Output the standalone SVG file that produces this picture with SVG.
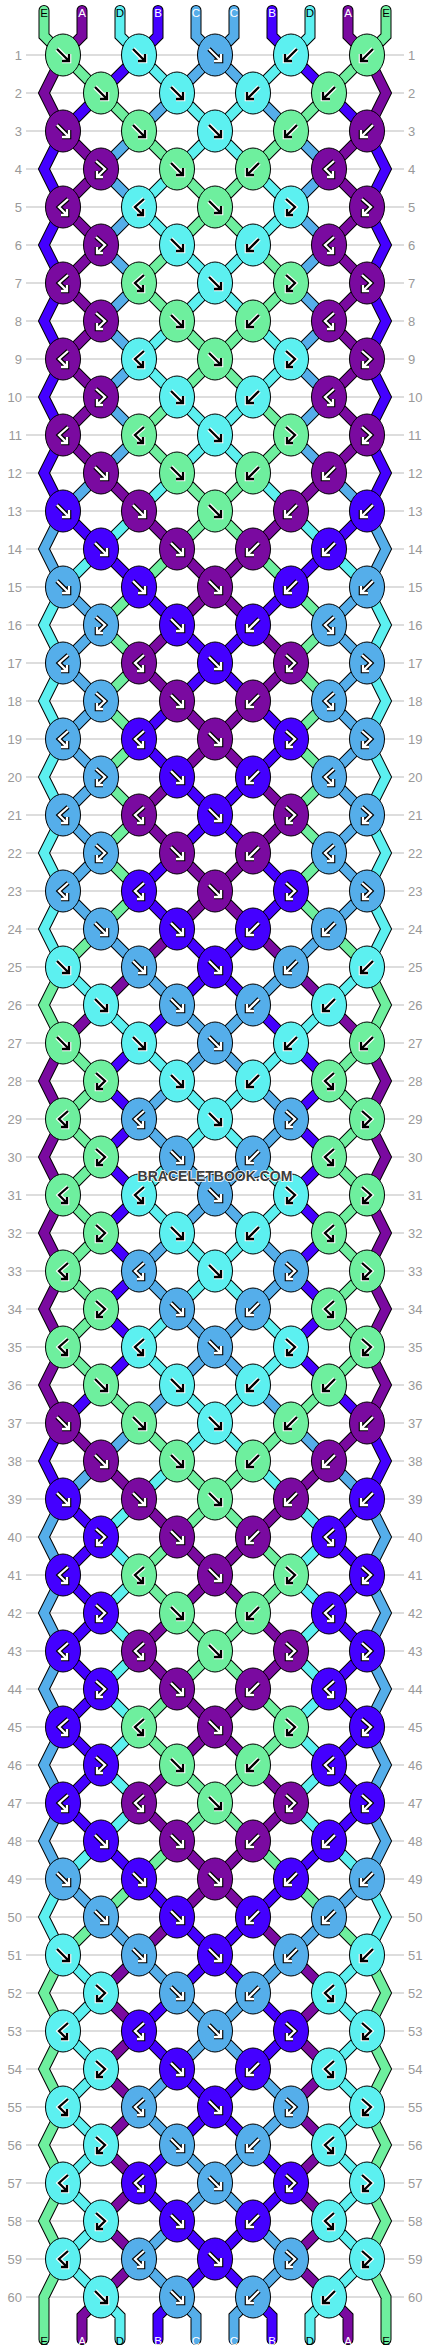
<svg xmlns="http://www.w3.org/2000/svg" xmlns:xlink="http://www.w3.org/1999/xlink" width="430" height="2352" viewBox="0 0 430 2352">
<style>
.grid{fill:none;stroke:#bbb;stroke-width:1}
.num{font-family:"Liberation Sans",Arial,sans-serif;font-size:13px;fill:#999}
.nl{text-anchor:end}
.so{fill:none;stroke:#000;stroke-width:11;stroke-linecap:round;stroke-linejoin:miter}
.cs{fill:none;stroke-width:9;stroke-linecap:round;stroke-linejoin:miter}
.sg{stroke:#6eef9e}.sp{stroke:#7a0aa0}.sc{stroke:#5cf0f0}.sb{stroke:#4400ff}.sl{stroke:#55aeea}
ellipse{stroke:#000;stroke-width:1}
.kg{fill:#6eef9e}.kp{fill:#7a0aa0}.kc{fill:#5cf0f0}.kb{fill:#4400ff}.kl{fill:#55aeea}
.lo{fill:none;stroke:#fff;stroke-width:4.6}
.li{fill:none;stroke:#000;stroke-width:2.3}
.do{fill:none;stroke:#000;stroke-width:4.6}
.di{fill:none;stroke:#fff;stroke-width:2.3}
.lab{font-family:"Liberation Sans",Arial,sans-serif;font-size:11.5px;text-anchor:middle}
.lw{fill:#fff}.lk{fill:#000}
.wm{font-family:"Liberation Sans",Arial,sans-serif;font-size:14px;font-weight:bold;text-anchor:middle;fill:#3c3c3c;stroke:#fff;stroke-width:1.6;paint-order:stroke}
</style>
<defs>
<path id="aF" d="M-6,-6L5,5M-1,6H6V-1"/>
<path id="aB" d="M6,-6L-5,5M1,6H-6V-1"/>
<path id="aFB" d="M-5,-8L4,0L-4,8M-4,2V8H2"/>
<path id="aBF" d="M5,-8L-4,0L4,8M4,2V8H-2"/>
<g id="gF"><ellipse class="kg" rx="17.5" ry="21"/><use href="#aF" class="lo"/><use href="#aF" class="li"/></g>
<g id="gB"><ellipse class="kg" rx="17.5" ry="21"/><use href="#aB" class="lo"/><use href="#aB" class="li"/></g>
<g id="gFB"><ellipse class="kg" rx="17.5" ry="21"/><use href="#aFB" class="lo"/><use href="#aFB" class="li"/></g>
<g id="gBF"><ellipse class="kg" rx="17.5" ry="21"/><use href="#aBF" class="lo"/><use href="#aBF" class="li"/></g>
<g id="cF"><ellipse class="kc" rx="17.5" ry="21"/><use href="#aF" class="lo"/><use href="#aF" class="li"/></g>
<g id="cB"><ellipse class="kc" rx="17.5" ry="21"/><use href="#aB" class="lo"/><use href="#aB" class="li"/></g>
<g id="cFB"><ellipse class="kc" rx="17.5" ry="21"/><use href="#aFB" class="lo"/><use href="#aFB" class="li"/></g>
<g id="cBF"><ellipse class="kc" rx="17.5" ry="21"/><use href="#aBF" class="lo"/><use href="#aBF" class="li"/></g>
<g id="pF"><ellipse class="kp" rx="17.5" ry="21"/><use href="#aF" class="do"/><use href="#aF" class="di"/></g>
<g id="pB"><ellipse class="kp" rx="17.5" ry="21"/><use href="#aB" class="do"/><use href="#aB" class="di"/></g>
<g id="pFB"><ellipse class="kp" rx="17.5" ry="21"/><use href="#aFB" class="do"/><use href="#aFB" class="di"/></g>
<g id="pBF"><ellipse class="kp" rx="17.5" ry="21"/><use href="#aBF" class="do"/><use href="#aBF" class="di"/></g>
<g id="bF"><ellipse class="kb" rx="17.5" ry="21"/><use href="#aF" class="do"/><use href="#aF" class="di"/></g>
<g id="bB"><ellipse class="kb" rx="17.5" ry="21"/><use href="#aB" class="do"/><use href="#aB" class="di"/></g>
<g id="bFB"><ellipse class="kb" rx="17.5" ry="21"/><use href="#aFB" class="do"/><use href="#aFB" class="di"/></g>
<g id="bBF"><ellipse class="kb" rx="17.5" ry="21"/><use href="#aBF" class="do"/><use href="#aBF" class="di"/></g>
<g id="lF"><ellipse class="kl" rx="17.5" ry="21"/><use href="#aF" class="do"/><use href="#aF" class="di"/></g>
<g id="lB"><ellipse class="kl" rx="17.5" ry="21"/><use href="#aB" class="do"/><use href="#aB" class="di"/></g>
<g id="lFB"><ellipse class="kl" rx="17.5" ry="21"/><use href="#aFB" class="do"/><use href="#aFB" class="di"/></g>
<g id="lBF"><ellipse class="kl" rx="17.5" ry="21"/><use href="#aBF" class="do"/><use href="#aBF" class="di"/></g>
<polyline id="sE" points="44,10.5 44,36 63,55 101,93 139,131 177,169 215,207 177,245 139,283 177,321 215,359 177,397 139,435 177,473 215,511 177,549 139,587 101,625 139,663 101,701 139,739 101,777 139,815 101,853 139,891 101,929 63,967 44,1005 63,1043 101,1081 63,1119 101,1157 63,1195 101,1233 63,1271 101,1309 63,1347 101,1385 139,1423 177,1461 215,1499 177,1537 139,1575 177,1613 215,1651 177,1689 139,1727 177,1765 215,1803 177,1841 139,1879 101,1917 63,1955 44,1993 63,2031 44,2069 63,2107 44,2145 63,2183 44,2221 63,2259 44,2297 44,2339.5"/>
<polyline id="sA" points="82,10.5 82,36 63,55 44,93 63,131 101,169 63,207 101,245 63,283 101,321 63,359 101,397 63,435 101,473 139,511 177,549 215,587 177,625 139,663 177,701 215,739 177,777 139,815 177,853 215,891 177,929 139,967 101,1005 63,1043 44,1081 63,1119 44,1157 63,1195 44,1233 63,1271 44,1309 63,1347 44,1385 63,1423 101,1461 139,1499 177,1537 215,1575 177,1613 139,1651 177,1689 215,1727 177,1765 139,1803 177,1841 215,1879 177,1917 139,1955 101,1993 139,2031 101,2069 139,2107 101,2145 139,2183 101,2221 139,2259 101,2297 82,2316 82,2339.5"/>
<polyline id="sD" points="120,10.5 120,36 139,55 177,93 215,131 177,169 139,207 177,245 215,283 177,321 139,359 177,397 215,435 177,473 139,511 101,549 63,587 44,625 63,663 44,701 63,739 44,777 63,815 44,853 63,891 44,929 63,967 101,1005 139,1043 177,1081 215,1119 177,1157 139,1195 177,1233 215,1271 177,1309 139,1347 177,1385 215,1423 177,1461 139,1499 101,1537 139,1575 101,1613 139,1651 101,1689 139,1727 101,1765 139,1803 101,1841 63,1879 44,1917 63,1955 101,1993 63,2031 101,2069 63,2107 101,2145 63,2183 101,2221 63,2259 101,2297 120,2316 120,2339.5"/>
<polyline id="sB" points="158,10.5 158,36 139,55 101,93 63,131 44,169 63,207 44,245 63,283 44,321 63,359 44,397 63,435 44,473 63,511 101,549 139,587 177,625 215,663 177,701 139,739 177,777 215,815 177,853 139,891 177,929 215,967 177,1005 139,1043 101,1081 139,1119 101,1157 139,1195 101,1233 139,1271 101,1309 139,1347 101,1385 63,1423 44,1461 63,1499 101,1537 63,1575 101,1613 63,1651 101,1689 63,1727 101,1765 63,1803 101,1841 139,1879 177,1917 215,1955 177,1993 139,2031 177,2069 215,2107 177,2145 139,2183 177,2221 215,2259 177,2297 158,2316 158,2339.5"/>
<polyline id="sC" points="196,10.5 196,36 215,55 177,93 139,131 101,169 139,207 101,245 139,283 101,321 139,359 101,397 139,435 101,473 63,511 44,549 63,587 101,625 63,663 101,701 63,739 101,777 63,815 101,853 63,891 101,929 139,967 177,1005 215,1043 177,1081 139,1119 177,1157 215,1195 177,1233 139,1271 177,1309 215,1347 177,1385 139,1423 101,1461 63,1499 44,1537 63,1575 44,1613 63,1651 44,1689 63,1727 44,1765 63,1803 44,1841 63,1879 101,1917 139,1955 177,1993 215,2031 177,2069 139,2107 177,2145 215,2183 177,2221 139,2259 177,2297 196,2316 196,2339.5"/>
</defs>
<rect width="430" height="2352" fill="#fff"/>
<g id="rows">
<path class="grid" d="M26,55H404M26,93H404M26,131H404M26,169H404M26,207H404M26,245H404M26,283H404M26,321H404M26,359H404M26,397H404M26,435H404M26,473H404M26,511H404M26,549H404M26,587H404M26,625H404M26,663H404M26,701H404M26,739H404M26,777H404M26,815H404M26,853H404M26,891H404M26,929H404M26,967H404M26,1005H404M26,1043H404M26,1081H404M26,1119H404M26,1157H404M26,1195H404M26,1233H404M26,1271H404M26,1309H404M26,1347H404M26,1385H404M26,1423H404M26,1461H404M26,1499H404M26,1537H404M26,1575H404M26,1613H404M26,1651H404M26,1689H404M26,1727H404M26,1765H404M26,1803H404M26,1841H404M26,1879H404M26,1917H404M26,1955H404M26,1993H404M26,2031H404M26,2069H404M26,2107H404M26,2145H404M26,2183H404M26,2221H404M26,2259H404M26,2297H404"/>
<g class="num nl">
<text x="22" y="59.5">1</text><text x="22" y="97.5">2</text><text x="22" y="135.5">3</text><text x="22" y="173.5">4</text><text x="22" y="211.5">5</text><text x="22" y="249.5">6</text><text x="22" y="287.5">7</text><text x="22" y="325.5">8</text><text x="22" y="363.5">9</text><text x="22" y="401.5">10</text>
<text x="22" y="439.5">11</text><text x="22" y="477.5">12</text><text x="22" y="515.5">13</text><text x="22" y="553.5">14</text><text x="22" y="591.5">15</text><text x="22" y="629.5">16</text><text x="22" y="667.5">17</text><text x="22" y="705.5">18</text><text x="22" y="743.5">19</text><text x="22" y="781.5">20</text>
<text x="22" y="819.5">21</text><text x="22" y="857.5">22</text><text x="22" y="895.5">23</text><text x="22" y="933.5">24</text><text x="22" y="971.5">25</text><text x="22" y="1009.5">26</text><text x="22" y="1047.5">27</text><text x="22" y="1085.5">28</text><text x="22" y="1123.5">29</text><text x="22" y="1161.5">30</text>
<text x="22" y="1199.5">31</text><text x="22" y="1237.5">32</text><text x="22" y="1275.5">33</text><text x="22" y="1313.5">34</text><text x="22" y="1351.5">35</text><text x="22" y="1389.5">36</text><text x="22" y="1427.5">37</text><text x="22" y="1465.5">38</text><text x="22" y="1503.5">39</text><text x="22" y="1541.5">40</text>
<text x="22" y="1579.5">41</text><text x="22" y="1617.5">42</text><text x="22" y="1655.5">43</text><text x="22" y="1693.5">44</text><text x="22" y="1731.5">45</text><text x="22" y="1769.5">46</text><text x="22" y="1807.5">47</text><text x="22" y="1845.5">48</text><text x="22" y="1883.5">49</text><text x="22" y="1921.5">50</text>
<text x="22" y="1959.5">51</text><text x="22" y="1997.5">52</text><text x="22" y="2035.5">53</text><text x="22" y="2073.5">54</text><text x="22" y="2111.5">55</text><text x="22" y="2149.5">56</text><text x="22" y="2187.5">57</text><text x="22" y="2225.5">58</text><text x="22" y="2263.5">59</text><text x="22" y="2301.5">60</text>
</g>
<g class="num">
<text x="408" y="59.5">1</text><text x="408" y="97.5">2</text><text x="408" y="135.5">3</text><text x="408" y="173.5">4</text><text x="408" y="211.5">5</text><text x="408" y="249.5">6</text><text x="408" y="287.5">7</text><text x="408" y="325.5">8</text><text x="408" y="363.5">9</text><text x="408" y="401.5">10</text>
<text x="408" y="439.5">11</text><text x="408" y="477.5">12</text><text x="408" y="515.5">13</text><text x="408" y="553.5">14</text><text x="408" y="591.5">15</text><text x="408" y="629.5">16</text><text x="408" y="667.5">17</text><text x="408" y="705.5">18</text><text x="408" y="743.5">19</text><text x="408" y="781.5">20</text>
<text x="408" y="819.5">21</text><text x="408" y="857.5">22</text><text x="408" y="895.5">23</text><text x="408" y="933.5">24</text><text x="408" y="971.5">25</text><text x="408" y="1009.5">26</text><text x="408" y="1047.5">27</text><text x="408" y="1085.5">28</text><text x="408" y="1123.5">29</text><text x="408" y="1161.5">30</text>
<text x="408" y="1199.5">31</text><text x="408" y="1237.5">32</text><text x="408" y="1275.5">33</text><text x="408" y="1313.5">34</text><text x="408" y="1351.5">35</text><text x="408" y="1389.5">36</text><text x="408" y="1427.5">37</text><text x="408" y="1465.5">38</text><text x="408" y="1503.5">39</text><text x="408" y="1541.5">40</text>
<text x="408" y="1579.5">41</text><text x="408" y="1617.5">42</text><text x="408" y="1655.5">43</text><text x="408" y="1693.5">44</text><text x="408" y="1731.5">45</text><text x="408" y="1769.5">46</text><text x="408" y="1807.5">47</text><text x="408" y="1845.5">48</text><text x="408" y="1883.5">49</text><text x="408" y="1921.5">50</text>
<text x="408" y="1959.5">51</text><text x="408" y="1997.5">52</text><text x="408" y="2035.5">53</text><text x="408" y="2073.5">54</text><text x="408" y="2111.5">55</text><text x="408" y="2149.5">56</text><text x="408" y="2187.5">57</text><text x="408" y="2225.5">58</text><text x="408" y="2263.5">59</text><text x="408" y="2301.5">60</text>
</g>
</g>
<g id="connectors">
<g id="strings-left">
<use href="#sE" class="so"/><use href="#sE" class="cs sg"/>
<use href="#sA" class="so"/><use href="#sA" class="cs sp"/>
<use href="#sD" class="so"/><use href="#sD" class="cs sc"/>
<use href="#sB" class="so"/><use href="#sB" class="cs sb"/>
<use href="#sC" class="so"/><use href="#sC" class="cs sl"/>
</g>
<use id="strings-right" href="#strings-left" transform="matrix(-1 0 0 1 430 0)"/>
</g>
<g id="knots">
<g id="k1-1" transform="translate(63,55)"><use href="#gF"/></g><g id="k1-2" transform="translate(139,55)"><use href="#cF"/></g><g id="k1-3" transform="translate(215,55)"><use href="#lF"/></g><g id="k1-4" transform="translate(291,55)"><use href="#cB"/></g><g id="k1-5" transform="translate(367,55)"><use href="#gB"/></g>
<g id="k2-1" transform="translate(101,93)"><use href="#gF"/></g><g id="k2-2" transform="translate(177,93)"><use href="#cF"/></g><g id="k2-3" transform="translate(253,93)"><use href="#cB"/></g><g id="k2-4" transform="translate(329,93)"><use href="#gB"/></g>
<g id="k3-1" transform="translate(63,131)"><use href="#pF"/></g><g id="k3-2" transform="translate(139,131)"><use href="#gF"/></g><g id="k3-3" transform="translate(215,131)"><use href="#cF"/></g><g id="k3-4" transform="translate(291,131)"><use href="#gB"/></g><g id="k3-5" transform="translate(367,131)"><use href="#pB"/></g>
<g id="k4-1" transform="translate(101,169)"><use href="#pFB"/></g><g id="k4-2" transform="translate(177,169)"><use href="#gF"/></g><g id="k4-3" transform="translate(253,169)"><use href="#gB"/></g><g id="k4-4" transform="translate(329,169)"><use href="#pBF"/></g>
<g id="k5-1" transform="translate(63,207)"><use href="#pBF"/></g><g id="k5-2" transform="translate(139,207)"><use href="#cBF"/></g><g id="k5-3" transform="translate(215,207)"><use href="#gF"/></g><g id="k5-4" transform="translate(291,207)"><use href="#cFB"/></g><g id="k5-5" transform="translate(367,207)"><use href="#pFB"/></g>
<g id="k6-1" transform="translate(101,245)"><use href="#pFB"/></g><g id="k6-2" transform="translate(177,245)"><use href="#cF"/></g><g id="k6-3" transform="translate(253,245)"><use href="#cB"/></g><g id="k6-4" transform="translate(329,245)"><use href="#pBF"/></g>
<g id="k7-1" transform="translate(63,283)"><use href="#pBF"/></g><g id="k7-2" transform="translate(139,283)"><use href="#gBF"/></g><g id="k7-3" transform="translate(215,283)"><use href="#cF"/></g><g id="k7-4" transform="translate(291,283)"><use href="#gFB"/></g><g id="k7-5" transform="translate(367,283)"><use href="#pFB"/></g>
<g id="k8-1" transform="translate(101,321)"><use href="#pFB"/></g><g id="k8-2" transform="translate(177,321)"><use href="#gF"/></g><g id="k8-3" transform="translate(253,321)"><use href="#gB"/></g><g id="k8-4" transform="translate(329,321)"><use href="#pBF"/></g>
<g id="k9-1" transform="translate(63,359)"><use href="#pBF"/></g><g id="k9-2" transform="translate(139,359)"><use href="#cBF"/></g><g id="k9-3" transform="translate(215,359)"><use href="#gF"/></g><g id="k9-4" transform="translate(291,359)"><use href="#cFB"/></g><g id="k9-5" transform="translate(367,359)"><use href="#pFB"/></g>
<g id="k10-1" transform="translate(101,397)"><use href="#pFB"/></g><g id="k10-2" transform="translate(177,397)"><use href="#cF"/></g><g id="k10-3" transform="translate(253,397)"><use href="#cB"/></g><g id="k10-4" transform="translate(329,397)"><use href="#pBF"/></g>
<g id="k11-1" transform="translate(63,435)"><use href="#pBF"/></g><g id="k11-2" transform="translate(139,435)"><use href="#gBF"/></g><g id="k11-3" transform="translate(215,435)"><use href="#cF"/></g><g id="k11-4" transform="translate(291,435)"><use href="#gFB"/></g><g id="k11-5" transform="translate(367,435)"><use href="#pFB"/></g>
<g id="k12-1" transform="translate(101,473)"><use href="#pF"/></g><g id="k12-2" transform="translate(177,473)"><use href="#gF"/></g><g id="k12-3" transform="translate(253,473)"><use href="#gB"/></g><g id="k12-4" transform="translate(329,473)"><use href="#pB"/></g>
<g id="k13-1" transform="translate(63,511)"><use href="#bF"/></g><g id="k13-2" transform="translate(139,511)"><use href="#pF"/></g><g id="k13-3" transform="translate(215,511)"><use href="#gF"/></g><g id="k13-4" transform="translate(291,511)"><use href="#pB"/></g><g id="k13-5" transform="translate(367,511)"><use href="#bB"/></g>
<g id="k14-1" transform="translate(101,549)"><use href="#bF"/></g><g id="k14-2" transform="translate(177,549)"><use href="#pF"/></g><g id="k14-3" transform="translate(253,549)"><use href="#pB"/></g><g id="k14-4" transform="translate(329,549)"><use href="#bB"/></g>
<g id="k15-1" transform="translate(63,587)"><use href="#lF"/></g><g id="k15-2" transform="translate(139,587)"><use href="#bF"/></g><g id="k15-3" transform="translate(215,587)"><use href="#pF"/></g><g id="k15-4" transform="translate(291,587)"><use href="#bB"/></g><g id="k15-5" transform="translate(367,587)"><use href="#lB"/></g>
<g id="k16-1" transform="translate(101,625)"><use href="#lFB"/></g><g id="k16-2" transform="translate(177,625)"><use href="#bF"/></g><g id="k16-3" transform="translate(253,625)"><use href="#bB"/></g><g id="k16-4" transform="translate(329,625)"><use href="#lBF"/></g>
<g id="k17-1" transform="translate(63,663)"><use href="#lBF"/></g><g id="k17-2" transform="translate(139,663)"><use href="#pBF"/></g><g id="k17-3" transform="translate(215,663)"><use href="#bF"/></g><g id="k17-4" transform="translate(291,663)"><use href="#pFB"/></g><g id="k17-5" transform="translate(367,663)"><use href="#lFB"/></g>
<g id="k18-1" transform="translate(101,701)"><use href="#lFB"/></g><g id="k18-2" transform="translate(177,701)"><use href="#pF"/></g><g id="k18-3" transform="translate(253,701)"><use href="#pB"/></g><g id="k18-4" transform="translate(329,701)"><use href="#lBF"/></g>
<g id="k19-1" transform="translate(63,739)"><use href="#lBF"/></g><g id="k19-2" transform="translate(139,739)"><use href="#bBF"/></g><g id="k19-3" transform="translate(215,739)"><use href="#pF"/></g><g id="k19-4" transform="translate(291,739)"><use href="#bFB"/></g><g id="k19-5" transform="translate(367,739)"><use href="#lFB"/></g>
<g id="k20-1" transform="translate(101,777)"><use href="#lFB"/></g><g id="k20-2" transform="translate(177,777)"><use href="#bF"/></g><g id="k20-3" transform="translate(253,777)"><use href="#bB"/></g><g id="k20-4" transform="translate(329,777)"><use href="#lBF"/></g>
<g id="k21-1" transform="translate(63,815)"><use href="#lBF"/></g><g id="k21-2" transform="translate(139,815)"><use href="#pBF"/></g><g id="k21-3" transform="translate(215,815)"><use href="#bF"/></g><g id="k21-4" transform="translate(291,815)"><use href="#pFB"/></g><g id="k21-5" transform="translate(367,815)"><use href="#lFB"/></g>
<g id="k22-1" transform="translate(101,853)"><use href="#lFB"/></g><g id="k22-2" transform="translate(177,853)"><use href="#pF"/></g><g id="k22-3" transform="translate(253,853)"><use href="#pB"/></g><g id="k22-4" transform="translate(329,853)"><use href="#lBF"/></g>
<g id="k23-1" transform="translate(63,891)"><use href="#lBF"/></g><g id="k23-2" transform="translate(139,891)"><use href="#bBF"/></g><g id="k23-3" transform="translate(215,891)"><use href="#pF"/></g><g id="k23-4" transform="translate(291,891)"><use href="#bFB"/></g><g id="k23-5" transform="translate(367,891)"><use href="#lFB"/></g>
<g id="k24-1" transform="translate(101,929)"><use href="#lF"/></g><g id="k24-2" transform="translate(177,929)"><use href="#bF"/></g><g id="k24-3" transform="translate(253,929)"><use href="#bB"/></g><g id="k24-4" transform="translate(329,929)"><use href="#lB"/></g>
<g id="k25-1" transform="translate(63,967)"><use href="#cF"/></g><g id="k25-2" transform="translate(139,967)"><use href="#lF"/></g><g id="k25-3" transform="translate(215,967)"><use href="#bF"/></g><g id="k25-4" transform="translate(291,967)"><use href="#lB"/></g><g id="k25-5" transform="translate(367,967)"><use href="#cB"/></g>
<g id="k26-1" transform="translate(101,1005)"><use href="#cF"/></g><g id="k26-2" transform="translate(177,1005)"><use href="#lF"/></g><g id="k26-3" transform="translate(253,1005)"><use href="#lB"/></g><g id="k26-4" transform="translate(329,1005)"><use href="#cB"/></g>
<g id="k27-1" transform="translate(63,1043)"><use href="#gF"/></g><g id="k27-2" transform="translate(139,1043)"><use href="#cF"/></g><g id="k27-3" transform="translate(215,1043)"><use href="#lF"/></g><g id="k27-4" transform="translate(291,1043)"><use href="#cB"/></g><g id="k27-5" transform="translate(367,1043)"><use href="#gB"/></g>
<g id="k28-1" transform="translate(101,1081)"><use href="#gFB"/></g><g id="k28-2" transform="translate(177,1081)"><use href="#cF"/></g><g id="k28-3" transform="translate(253,1081)"><use href="#cB"/></g><g id="k28-4" transform="translate(329,1081)"><use href="#gBF"/></g>
<g id="k29-1" transform="translate(63,1119)"><use href="#gBF"/></g><g id="k29-2" transform="translate(139,1119)"><use href="#lBF"/></g><g id="k29-3" transform="translate(215,1119)"><use href="#cF"/></g><g id="k29-4" transform="translate(291,1119)"><use href="#lFB"/></g><g id="k29-5" transform="translate(367,1119)"><use href="#gFB"/></g>
<g id="k30-1" transform="translate(101,1157)"><use href="#gFB"/></g><g id="k30-2" transform="translate(177,1157)"><use href="#lF"/></g><g id="k30-3" transform="translate(253,1157)"><use href="#lB"/></g><g id="k30-4" transform="translate(329,1157)"><use href="#gBF"/></g>
<g id="k31-1" transform="translate(63,1195)"><use href="#gBF"/></g><g id="k31-2" transform="translate(139,1195)"><use href="#cBF"/></g><g id="k31-3" transform="translate(215,1195)"><use href="#lF"/></g><g id="k31-4" transform="translate(291,1195)"><use href="#cFB"/></g><g id="k31-5" transform="translate(367,1195)"><use href="#gFB"/></g>
<g id="k32-1" transform="translate(101,1233)"><use href="#gFB"/></g><g id="k32-2" transform="translate(177,1233)"><use href="#cF"/></g><g id="k32-3" transform="translate(253,1233)"><use href="#cB"/></g><g id="k32-4" transform="translate(329,1233)"><use href="#gBF"/></g>
<g id="k33-1" transform="translate(63,1271)"><use href="#gBF"/></g><g id="k33-2" transform="translate(139,1271)"><use href="#lBF"/></g><g id="k33-3" transform="translate(215,1271)"><use href="#cF"/></g><g id="k33-4" transform="translate(291,1271)"><use href="#lFB"/></g><g id="k33-5" transform="translate(367,1271)"><use href="#gFB"/></g>
<g id="k34-1" transform="translate(101,1309)"><use href="#gFB"/></g><g id="k34-2" transform="translate(177,1309)"><use href="#lF"/></g><g id="k34-3" transform="translate(253,1309)"><use href="#lB"/></g><g id="k34-4" transform="translate(329,1309)"><use href="#gBF"/></g>
<g id="k35-1" transform="translate(63,1347)"><use href="#gBF"/></g><g id="k35-2" transform="translate(139,1347)"><use href="#cBF"/></g><g id="k35-3" transform="translate(215,1347)"><use href="#lF"/></g><g id="k35-4" transform="translate(291,1347)"><use href="#cFB"/></g><g id="k35-5" transform="translate(367,1347)"><use href="#gFB"/></g>
<g id="k36-1" transform="translate(101,1385)"><use href="#gF"/></g><g id="k36-2" transform="translate(177,1385)"><use href="#cF"/></g><g id="k36-3" transform="translate(253,1385)"><use href="#cB"/></g><g id="k36-4" transform="translate(329,1385)"><use href="#gB"/></g>
<g id="k37-1" transform="translate(63,1423)"><use href="#pF"/></g><g id="k37-2" transform="translate(139,1423)"><use href="#gF"/></g><g id="k37-3" transform="translate(215,1423)"><use href="#cF"/></g><g id="k37-4" transform="translate(291,1423)"><use href="#gB"/></g><g id="k37-5" transform="translate(367,1423)"><use href="#pB"/></g>
<g id="k38-1" transform="translate(101,1461)"><use href="#pF"/></g><g id="k38-2" transform="translate(177,1461)"><use href="#gF"/></g><g id="k38-3" transform="translate(253,1461)"><use href="#gB"/></g><g id="k38-4" transform="translate(329,1461)"><use href="#pB"/></g>
<g id="k39-1" transform="translate(63,1499)"><use href="#bF"/></g><g id="k39-2" transform="translate(139,1499)"><use href="#pF"/></g><g id="k39-3" transform="translate(215,1499)"><use href="#gF"/></g><g id="k39-4" transform="translate(291,1499)"><use href="#pB"/></g><g id="k39-5" transform="translate(367,1499)"><use href="#bB"/></g>
<g id="k40-1" transform="translate(101,1537)"><use href="#bFB"/></g><g id="k40-2" transform="translate(177,1537)"><use href="#pF"/></g><g id="k40-3" transform="translate(253,1537)"><use href="#pB"/></g><g id="k40-4" transform="translate(329,1537)"><use href="#bBF"/></g>
<g id="k41-1" transform="translate(63,1575)"><use href="#bBF"/></g><g id="k41-2" transform="translate(139,1575)"><use href="#gBF"/></g><g id="k41-3" transform="translate(215,1575)"><use href="#pF"/></g><g id="k41-4" transform="translate(291,1575)"><use href="#gFB"/></g><g id="k41-5" transform="translate(367,1575)"><use href="#bFB"/></g>
<g id="k42-1" transform="translate(101,1613)"><use href="#bFB"/></g><g id="k42-2" transform="translate(177,1613)"><use href="#gF"/></g><g id="k42-3" transform="translate(253,1613)"><use href="#gB"/></g><g id="k42-4" transform="translate(329,1613)"><use href="#bBF"/></g>
<g id="k43-1" transform="translate(63,1651)"><use href="#bBF"/></g><g id="k43-2" transform="translate(139,1651)"><use href="#pBF"/></g><g id="k43-3" transform="translate(215,1651)"><use href="#gF"/></g><g id="k43-4" transform="translate(291,1651)"><use href="#pFB"/></g><g id="k43-5" transform="translate(367,1651)"><use href="#bFB"/></g>
<g id="k44-1" transform="translate(101,1689)"><use href="#bFB"/></g><g id="k44-2" transform="translate(177,1689)"><use href="#pF"/></g><g id="k44-3" transform="translate(253,1689)"><use href="#pB"/></g><g id="k44-4" transform="translate(329,1689)"><use href="#bBF"/></g>
<g id="k45-1" transform="translate(63,1727)"><use href="#bBF"/></g><g id="k45-2" transform="translate(139,1727)"><use href="#gBF"/></g><g id="k45-3" transform="translate(215,1727)"><use href="#pF"/></g><g id="k45-4" transform="translate(291,1727)"><use href="#gFB"/></g><g id="k45-5" transform="translate(367,1727)"><use href="#bFB"/></g>
<g id="k46-1" transform="translate(101,1765)"><use href="#bFB"/></g><g id="k46-2" transform="translate(177,1765)"><use href="#gF"/></g><g id="k46-3" transform="translate(253,1765)"><use href="#gB"/></g><g id="k46-4" transform="translate(329,1765)"><use href="#bBF"/></g>
<g id="k47-1" transform="translate(63,1803)"><use href="#bBF"/></g><g id="k47-2" transform="translate(139,1803)"><use href="#pBF"/></g><g id="k47-3" transform="translate(215,1803)"><use href="#gF"/></g><g id="k47-4" transform="translate(291,1803)"><use href="#pFB"/></g><g id="k47-5" transform="translate(367,1803)"><use href="#bFB"/></g>
<g id="k48-1" transform="translate(101,1841)"><use href="#bF"/></g><g id="k48-2" transform="translate(177,1841)"><use href="#pF"/></g><g id="k48-3" transform="translate(253,1841)"><use href="#pB"/></g><g id="k48-4" transform="translate(329,1841)"><use href="#bB"/></g>
<g id="k49-1" transform="translate(63,1879)"><use href="#lF"/></g><g id="k49-2" transform="translate(139,1879)"><use href="#bF"/></g><g id="k49-3" transform="translate(215,1879)"><use href="#pF"/></g><g id="k49-4" transform="translate(291,1879)"><use href="#bB"/></g><g id="k49-5" transform="translate(367,1879)"><use href="#lB"/></g>
<g id="k50-1" transform="translate(101,1917)"><use href="#lF"/></g><g id="k50-2" transform="translate(177,1917)"><use href="#bF"/></g><g id="k50-3" transform="translate(253,1917)"><use href="#bB"/></g><g id="k50-4" transform="translate(329,1917)"><use href="#lB"/></g>
<g id="k51-1" transform="translate(63,1955)"><use href="#cF"/></g><g id="k51-2" transform="translate(139,1955)"><use href="#lF"/></g><g id="k51-3" transform="translate(215,1955)"><use href="#bF"/></g><g id="k51-4" transform="translate(291,1955)"><use href="#lB"/></g><g id="k51-5" transform="translate(367,1955)"><use href="#cB"/></g>
<g id="k52-1" transform="translate(101,1993)"><use href="#cFB"/></g><g id="k52-2" transform="translate(177,1993)"><use href="#lF"/></g><g id="k52-3" transform="translate(253,1993)"><use href="#lB"/></g><g id="k52-4" transform="translate(329,1993)"><use href="#cBF"/></g>
<g id="k53-1" transform="translate(63,2031)"><use href="#cBF"/></g><g id="k53-2" transform="translate(139,2031)"><use href="#bBF"/></g><g id="k53-3" transform="translate(215,2031)"><use href="#lF"/></g><g id="k53-4" transform="translate(291,2031)"><use href="#bFB"/></g><g id="k53-5" transform="translate(367,2031)"><use href="#cFB"/></g>
<g id="k54-1" transform="translate(101,2069)"><use href="#cFB"/></g><g id="k54-2" transform="translate(177,2069)"><use href="#bF"/></g><g id="k54-3" transform="translate(253,2069)"><use href="#bB"/></g><g id="k54-4" transform="translate(329,2069)"><use href="#cBF"/></g>
<g id="k55-1" transform="translate(63,2107)"><use href="#cBF"/></g><g id="k55-2" transform="translate(139,2107)"><use href="#lBF"/></g><g id="k55-3" transform="translate(215,2107)"><use href="#bF"/></g><g id="k55-4" transform="translate(291,2107)"><use href="#lFB"/></g><g id="k55-5" transform="translate(367,2107)"><use href="#cFB"/></g>
<g id="k56-1" transform="translate(101,2145)"><use href="#cFB"/></g><g id="k56-2" transform="translate(177,2145)"><use href="#lF"/></g><g id="k56-3" transform="translate(253,2145)"><use href="#lB"/></g><g id="k56-4" transform="translate(329,2145)"><use href="#cBF"/></g>
<g id="k57-1" transform="translate(63,2183)"><use href="#cBF"/></g><g id="k57-2" transform="translate(139,2183)"><use href="#bBF"/></g><g id="k57-3" transform="translate(215,2183)"><use href="#lF"/></g><g id="k57-4" transform="translate(291,2183)"><use href="#bFB"/></g><g id="k57-5" transform="translate(367,2183)"><use href="#cFB"/></g>
<g id="k58-1" transform="translate(101,2221)"><use href="#cFB"/></g><g id="k58-2" transform="translate(177,2221)"><use href="#bF"/></g><g id="k58-3" transform="translate(253,2221)"><use href="#bB"/></g><g id="k58-4" transform="translate(329,2221)"><use href="#cBF"/></g>
<g id="k59-1" transform="translate(63,2259)"><use href="#cBF"/></g><g id="k59-2" transform="translate(139,2259)"><use href="#lBF"/></g><g id="k59-3" transform="translate(215,2259)"><use href="#bF"/></g><g id="k59-4" transform="translate(291,2259)"><use href="#lFB"/></g><g id="k59-5" transform="translate(367,2259)"><use href="#cFB"/></g>
<g id="k60-1" transform="translate(101,2297)"><use href="#cF"/></g><g id="k60-2" transform="translate(177,2297)"><use href="#lF"/></g><g id="k60-3" transform="translate(253,2297)"><use href="#lB"/></g><g id="k60-4" transform="translate(329,2297)"><use href="#cB"/></g>
</g>
<g id="labels" class="lab">
<text class="lk" x="44" y="16.7">E</text><text class="lw" x="82" y="16.7">A</text><text class="lk" x="120" y="16.7">D</text><text class="lw" x="158" y="16.7">B</text><text class="lw" x="196" y="16.7">C</text><text class="lw" x="234" y="16.7">C</text><text class="lw" x="272" y="16.7">B</text><text class="lk" x="310" y="16.7">D</text><text class="lw" x="348" y="16.7">A</text><text class="lk" x="386" y="16.7">E</text>
<text class="lk" x="44" y="2345">E</text><text class="lw" x="82" y="2345">A</text><text class="lk" x="120" y="2345">D</text><text class="lw" x="158" y="2345">B</text><text class="lw" x="196" y="2345">C</text><text class="lw" x="234" y="2345">C</text><text class="lw" x="272" y="2345">B</text><text class="lk" x="310" y="2345">D</text><text class="lw" x="348" y="2345">A</text><text class="lk" x="386" y="2345">E</text>
</g>
<text class="wm" x="215" y="1181">BRACELETBOOK.COM</text>
</svg>
